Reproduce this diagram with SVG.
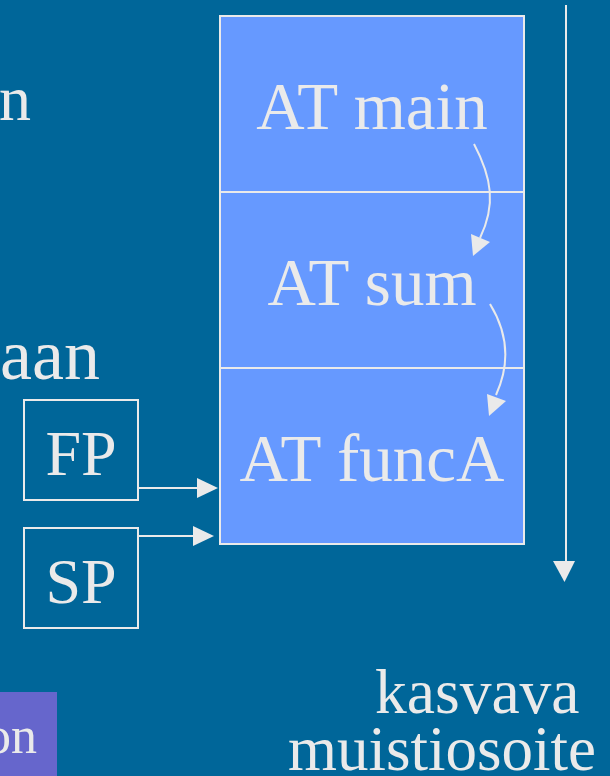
<svg xmlns="http://www.w3.org/2000/svg" width="610" height="776" viewBox="0 0 610 776">
<style>
.t{font-family:"Liberation Serif","Times New Roman",serif;font-size:64px;fill:#EAEAEA}
.big{font-size:67px}
.ln{stroke:#EAEAEA;stroke-width:2;fill:none}
.box{stroke:#EAEAEA;stroke-width:2}
.head{fill:#EAEAEA}
</style>
<rect width="610" height="776" fill="#006699"/>
<g id="left-text">
<text class="t" x="31" y="120" text-anchor="end">n</text>
<text class="t" x="100" y="379" text-anchor="end" style="font-size:72px">aan</text>
</g>
<g id="bottom-left">
<rect x="0" y="692" width="57" height="84" fill="#6666CC"/>
<text class="t" x="37" y="753" text-anchor="end" style="font-size:52px">on</text>
</g>
<g id="stack">
<rect class="box" x="220" y="16" width="304" height="528" fill="#6699FF"/>
<line class="ln" x1="220" y1="192" x2="524" y2="192"/>
<line class="ln" x1="220" y1="368" x2="524" y2="368"/>
</g>
<g id="at-main"><text class="t big" x="372" y="129" text-anchor="middle">AT main</text></g>
<g id="at-sum"><text class="t big" x="372" y="305" text-anchor="middle">AT sum</text></g>
<g id="at-funca"><text class="t big" x="372" y="481" text-anchor="middle">AT funcA</text></g>
<g id="fp">
<rect class="box" x="24" y="400" width="114" height="100" fill="none"/>
<text class="t" x="81" y="475" text-anchor="middle">FP</text>
</g>
<g id="sp">
<rect class="box" x="24" y="528" width="114" height="100" fill="none"/>
<text class="t" x="81" y="603" text-anchor="middle">SP</text>
</g>
<g id="address-label">
<text class="t" x="375" y="713" style="font-size:63.5px">kasvava</text>
<text class="t" x="288" y="770" style="font-size:63px">muistiosoite</text>
</g>
<g id="connectors">
<line class="ln" x1="138" y1="488" x2="197" y2="488"/>
<path class="head" d="M197,478 L218,488 L197,498 Z"/>
<line class="ln" x1="138" y1="536" x2="193" y2="536"/>
<path class="head" d="M193,526 L214,536 L193,546 Z"/>
<path class="ln" d="M474,144 C492,178 496,205 480,238"/>
<path class="head" d="M471,234 L490,242 L473,256 Z"/>
<path class="ln" d="M490,304 C506,330 512,360 496,395"/>
<path class="head" d="M487,394 L506,401 L489,416 Z"/>
<line class="ln" x1="566" y1="5" x2="566" y2="562"/>
<path class="head" d="M553,561 L575,561 L564.5,582 Z"/>
</g>
</svg>
